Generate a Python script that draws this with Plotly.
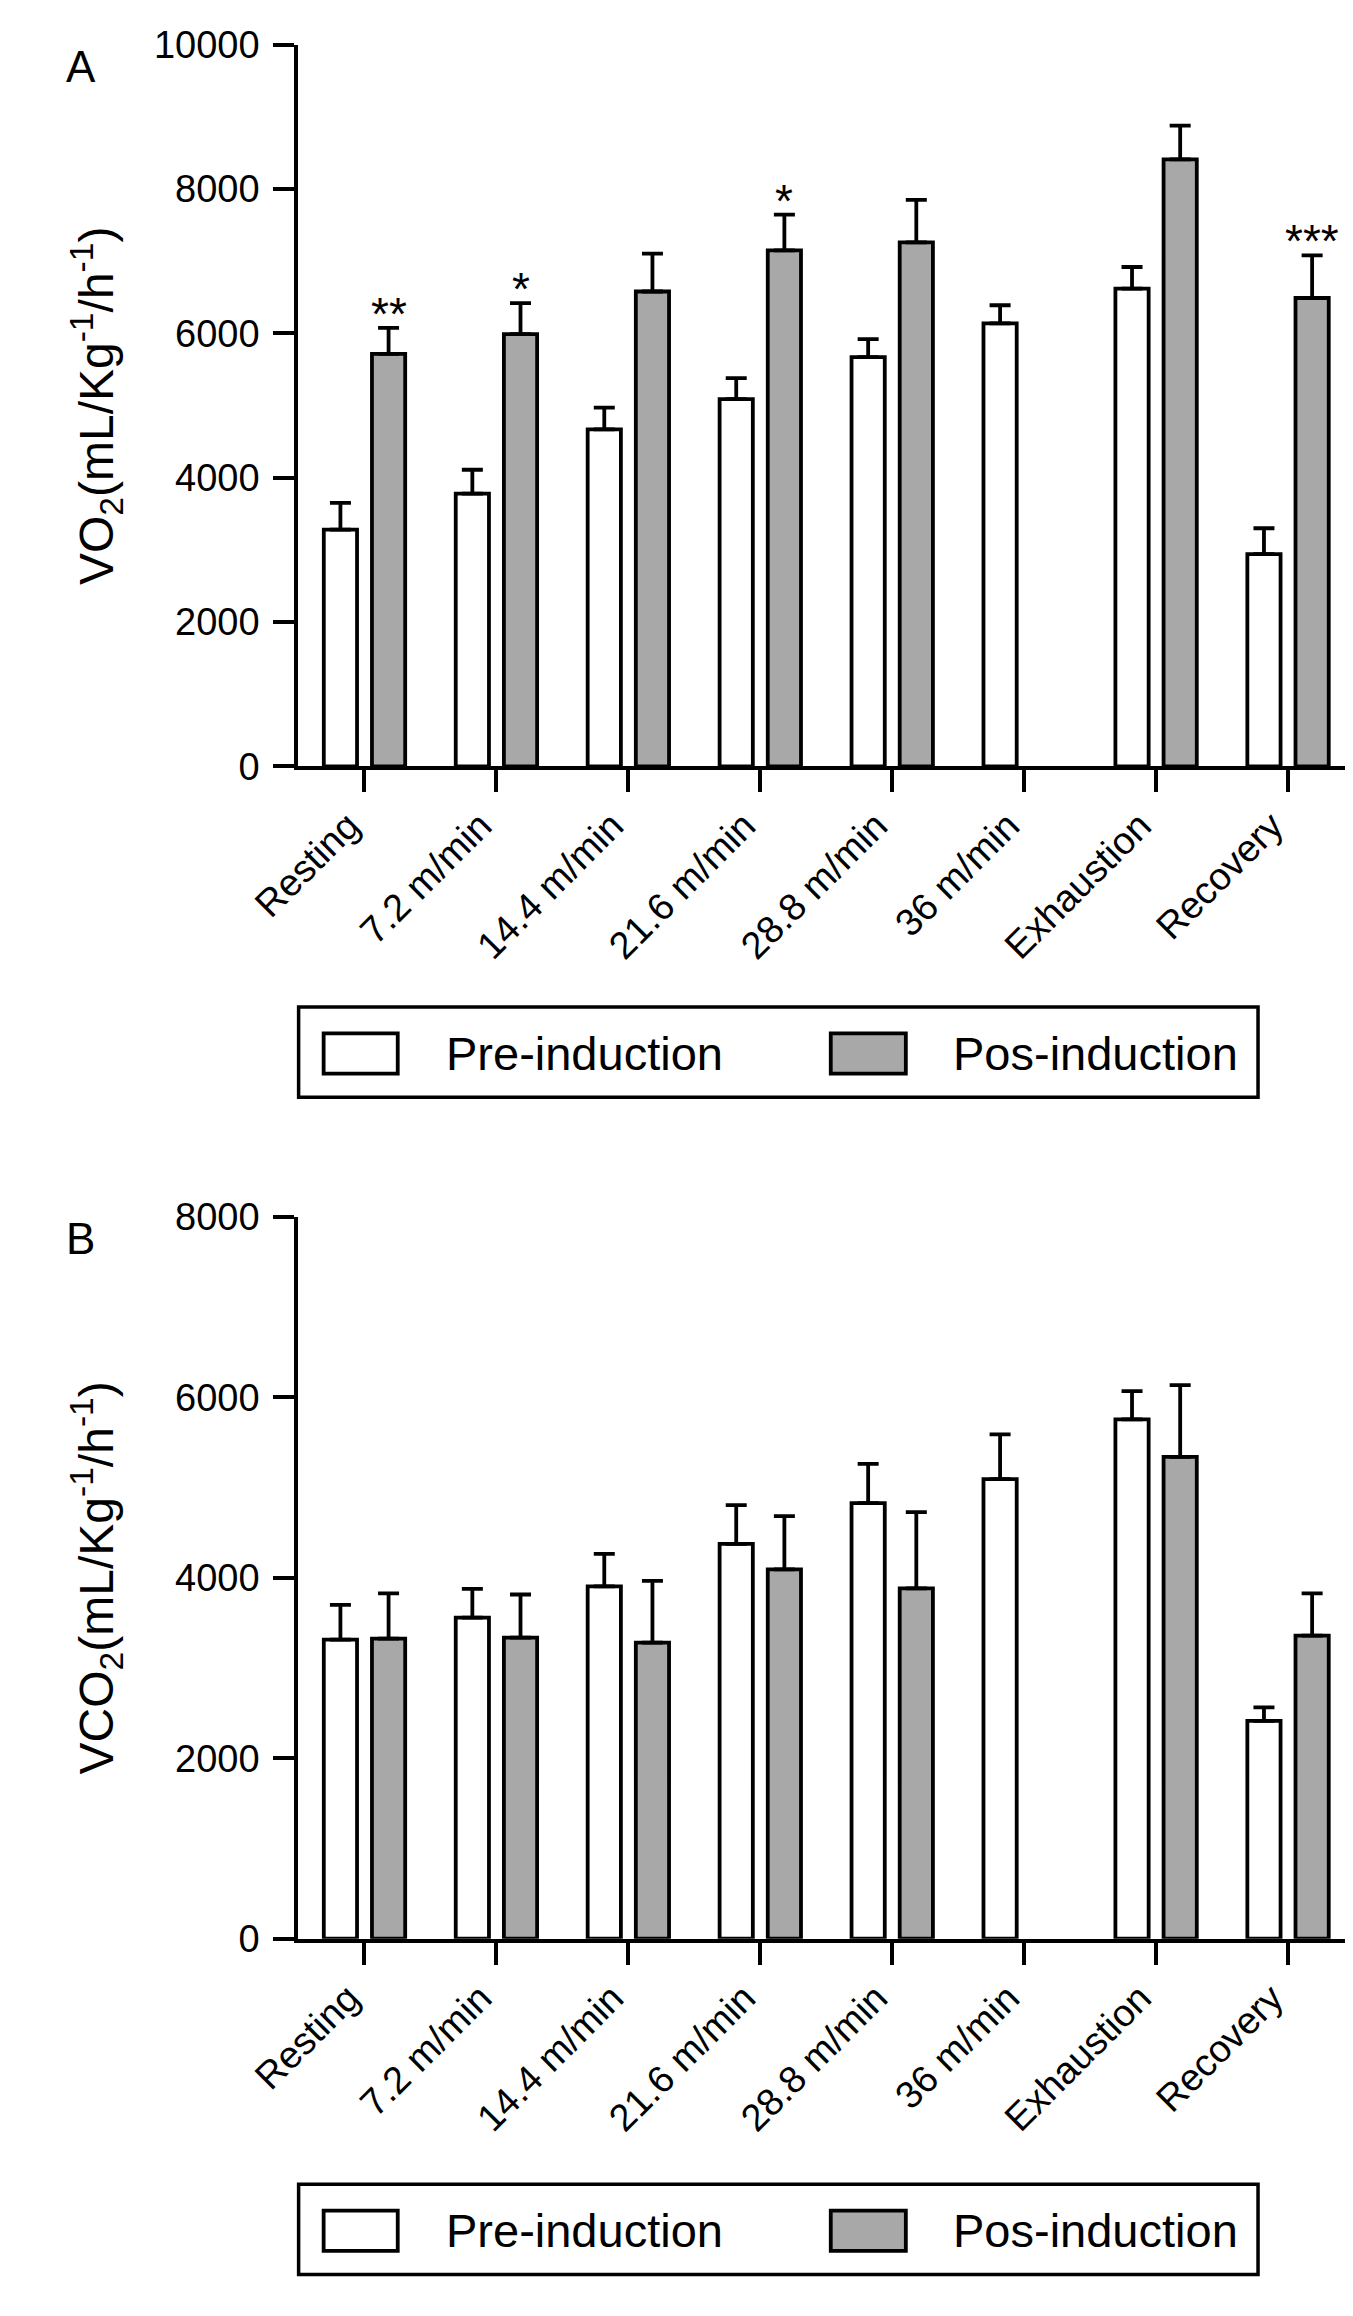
import plotly.graph_objects as go

W, H = 1353, 2316
FONT = "Liberation Sans, Arial, Helvetica, sans-serif"

stages = ["Resting", "7.2 m/min", "14.4 m/min", "21.6 m/min",
          "28.8 m/min", "36 m/min", "Exhaustion", "Recovery"]

# panel A: VO2
vo2_pre = [3280, 3780, 4670, 5090, 5670, 6140, 6620, 2940]
vo2_pre_sem = [370, 330, 300, 290, 250, 250, 300, 360]
vo2_pos = [5715, 5990, 6580, 7150, 7260, None, 8410, 6490]
vo2_pos_sem = [360, 430, 525, 495, 590, 0, 470, 590]
vo2_marks = ["**", "*", "", "*", "", "", "", "***"]

# panel B: VCO2
vco2_pre = [3316, 3560, 3905, 4378, 4829, 5096, 5758, 2414]
vco2_pre_sem = [384, 318, 362, 429, 434, 495, 312, 151]
vco2_pos = [3327, 3338, 3282, 4095, 3883, None, 5341, 3360]
vco2_pos_sem = [501, 478, 685, 589, 846, 0, 795, 468]

series_names = ["Pre-induction", "Pos-induction"]
colors = ["white", "#a8a8a8"]

BARGAP = 0.27
LW = 3.8


def py(y):
    return 1 - y / H


panels = [
    dict(pre=vo2_pre, pre_e=vo2_pre_sem, pos=vo2_pos, pos_e=vo2_pos_sem,
         marks=vo2_marks, ymax=10000, top=16, bottom=751, letter="A",
         title="VO<sub>2</sub>(mL/Kg<sup>-1</sup>/h<sup>-1</sup>)", leg=996),
    dict(pre=vco2_pre, pre_e=vco2_pre_sem, pos=vco2_pos, pos_e=vco2_pos_sem,
         marks=None, ymax=8000, top=1210, bottom=1945, letter="B",
         title="VCO<sub>2</sub>(mL/Kg<sup>-1</sup>/h<sup>-1</sup>)", leg=2195),
]

fig = go.Figure()
annotations = []
shapes = []

for i, p in enumerate(panels):
    xa = "x" if i == 0 else "x2"
    ya = "y" if i == 0 else "y2"
    for vals, errs, col, name in [(p["pre"], p["pre_e"], colors[0], series_names[0]),
                                  (p["pos"], p["pos_e"], colors[1], series_names[1])]:
        fig.add_trace(go.Bar(
            x=stages, y=vals, name=name, showlegend=False,
            marker=dict(color=col, line=dict(color="black", width=LW)),
            error_y=dict(type="data", symmetric=False, array=errs,
                         arrayminus=[0] * len(errs), color="black",
                         thickness=LW, width=10.5),
            xaxis=xa, yaxis=ya))

    # significance marks above the pos-induction bars
    if p["marks"]:
        for k, m in enumerate(p["marks"]):
            if m:
                annotations.append(dict(
                    x=k + (1 - BARGAP) / 4, y=p["pos"][k] + p["pos_e"][k],
                    xref=xa, yref=ya, text=m, showarrow=False,
                    yanchor="bottom", yshift=-14, font=dict(size=46)))

    # panel letter and y title
    annotations.append(dict(x=5 / W, y=py(p["top"] + 22), xref="paper", yref="paper",
                            text=p["letter"], showarrow=False, xanchor="left",
                            yanchor="middle", font=dict(size=44)))
    annotations.append(dict(x=39 / W, y=py((p["top"] + p["bottom"]) / 2),
                            xref="paper", yref="paper", text=p["title"],
                            showarrow=False, textangle=-90, xanchor="center",
                            yanchor="middle", font=dict(size=48)))

    # legend box drawn under each panel
    top = p["leg"]
    shapes.append(dict(type="rect", xref="paper", yref="paper",
                       x0=249 / W, x1=1246 / W, y0=py(top + 92), y1=py(top),
                       line=dict(color="black", width=3.5)))
    for x0, x1, col, name, tx in [(275, 352, colors[0], series_names[0], 400),
                                  (802, 880, colors[1], series_names[1], 927)]:
        shapes.append(dict(type="rect", xref="paper", yref="paper",
                           x0=x0 / W, x1=x1 / W, y0=py(top + 68), y1=py(top + 27),
                           fillcolor=col, line=dict(color="black", width=LW)))
        annotations.append(dict(x=tx / W, y=py(top + 47), xref="paper", yref="paper",
                                text=name, showarrow=False, xanchor="left",
                                yanchor="middle", font=dict(size=47)))

axis_common = dict(showline=True, linecolor="black", linewidth=LW,
                   ticks="outside", tickcolor="black", tickwidth=LW,
                   showgrid=False, zeroline=False,
                   tickfont=dict(size=38, color="black"))

layout_axes = {}
for i, p in enumerate(panels):
    sfx = "" if i == 0 else "2"
    layout_axes["xaxis" + sfx] = dict(
        axis_common, domain=[248.5 / W, 1], range=[-0.503, 7.553],
        ticklen=22, tickangle=-45, ticklabelshift=-16, ticklabelstandoff=-4,
        anchor="y" + sfx)
    layout_axes["yaxis" + sfx] = dict(
        axis_common, domain=[py(p["bottom"]), py(p["top"])],
        range=[0, p["ymax"]], tickvals=list(range(0, p["ymax"] + 1, 2000)),
        tickformat="d", ticklen=21, ticklabelstandoff=6, anchor="x" + sfx)

fig.update_layout(
    width=W, height=H,
    margin=dict(l=0, r=0, t=0, b=0),
    barmode="group", bargap=BARGAP, bargroupgap=0.31,
    plot_bgcolor="white", paper_bgcolor="white",
    font=dict(family=FONT, color="black"),
    annotations=annotations, shapes=shapes,
    **layout_axes)

fig.write_html("out.html")
